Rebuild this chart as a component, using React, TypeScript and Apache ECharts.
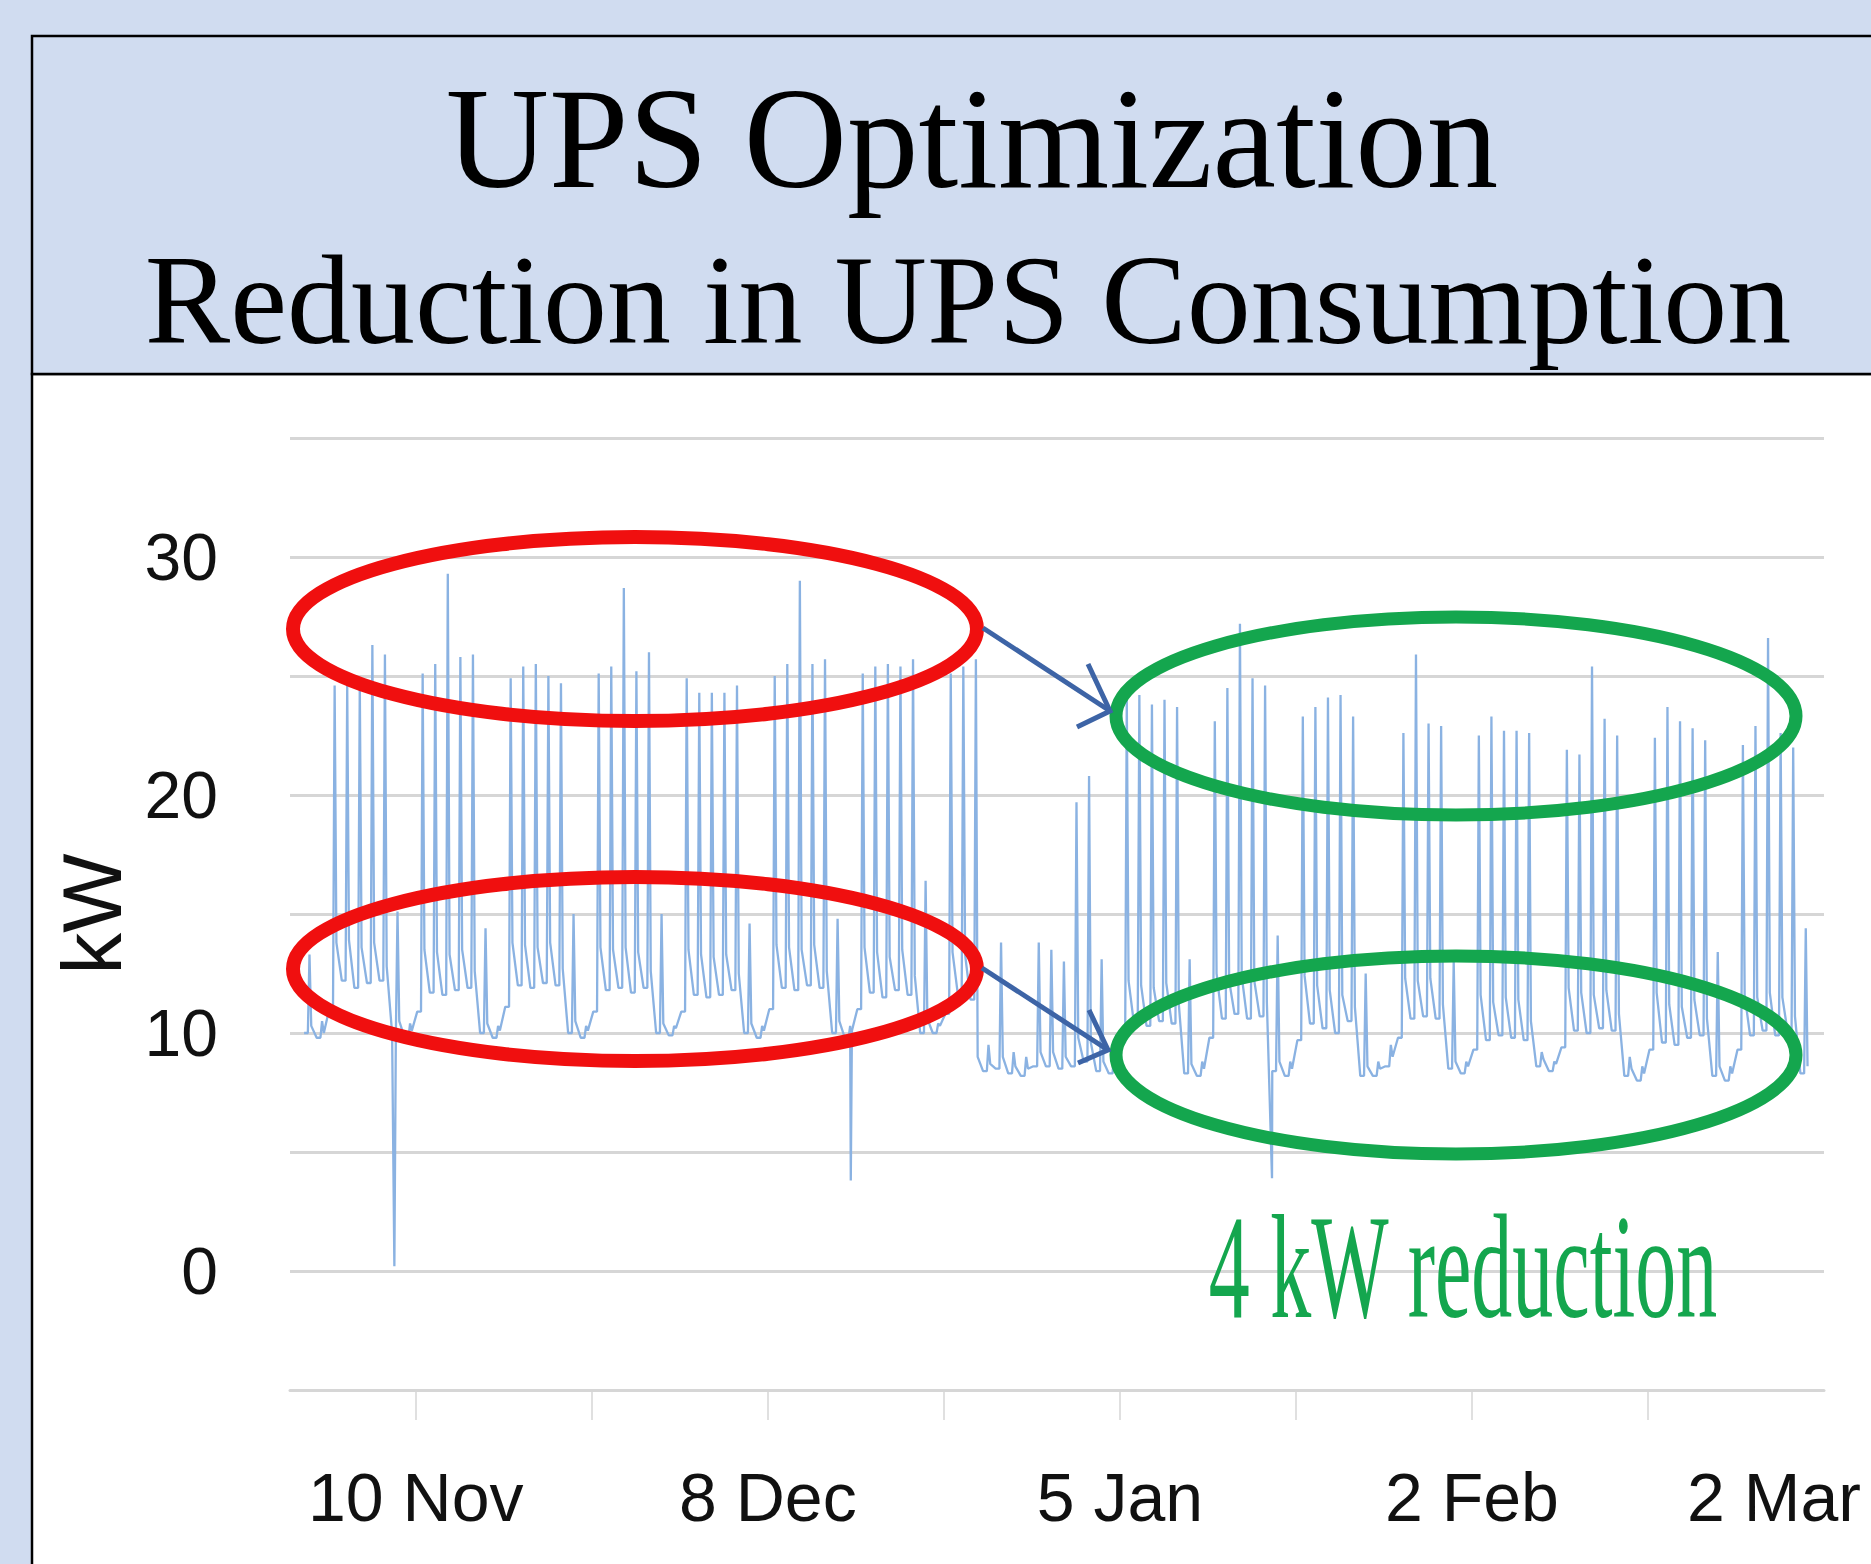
import React, { useEffect, useRef } from "react";
import * as echarts from "echarts";

const TITLE_LINE_1 = "UPS Optimization";
const TITLE_LINE_2 = "Reduction in UPS Consumption";
const Y_NAME = "kW";
const NOTE = "4 kW reduction";

// x values are days counted from Monday 27 Oct 2014 (day 0)
const FIRST_DAY = 5; // Saturday 1 Nov 2014
const X_MIN = 4;
const X_MAX = 126;
const X_TICK_DAYS = [14, 28, 42, 56, 70, 84, 98, 112];
const X_LABEL_DAYS = [14, 42, 70, 98, 126];
const X_LABELS = ["10 Nov", "8 Dec", "5 Jan", "2 Feb", "2 Mar"];
const Y_LABEL_VALUES = [0, 10, 20, 30];

// daily peak (kW), one value per day from Sat 1 Nov 2014 to Sat 28 Feb 2015
const dailyPeak = [
  13.3, 10.5, 24.6, 24.6, 24.7, 26.3, 25.9,
  15.1, 10.4, 25.1, 25.5, 29.3, 25.8, 25.9,
  14.4, 10.3, 24.9, 25.4, 25.5, 25.0, 24.7,
  15.0, 10.3, 25.1, 25.4, 28.7, 25.2, 26.0,
  15.0, 10.3, 24.9, 24.3, 24.3, 24.3, 24.6,
  14.6, 10.3, 25.0, 25.5, 29.0, 25.5, 25.7,
  14.8, 10.3, 25.1, 25.4, 25.5, 25.4, 25.7,
  16.4, 10.4, 25.1, 25.4, 25.7, 9.5, 13.8,
  9.2, 9.0, 13.8, 13.5, 13.0, 19.7, 20.8,
  13.1, 9.3, 24.0, 24.2, 23.8, 24.0, 23.7,
  13.1, 8.8, 23.1, 24.5, 27.2, 24.9, 24.6,
  14.1, 8.8, 23.3, 23.7, 24.1, 24.2, 23.3,
  12.5, 8.8, 9.5, 22.6, 25.9, 23.0, 22.9,
  13.0, 8.8, 22.5, 23.3, 22.7, 22.7, 22.6,
  9.2, 8.8, 21.9, 21.7, 25.4, 23.2, 22.5,
  9.0, 8.6, 22.4, 23.7, 23.1, 22.8, 22.3,
  13.4, 8.6, 22.1, 22.9, 26.6, 22.6, 22.0,
  14.4,
];

// early-morning base load (kW), same days
const dailyLow = [
  10.0, 9.8, 11.0, 12.2, 11.9, 12.1, 12.2,
  10.0, 9.8, 10.9, 11.7, 11.6, 11.8, 11.9,
  10.0, 9.8, 11.1, 12.0, 11.9, 12.1, 12.0,
  10.0, 9.8, 10.9, 11.8, 11.9, 11.7, 11.9,
  10.0, 9.9, 10.9, 11.6, 11.5, 11.6, 11.8,
  10.0, 9.8, 11.0, 11.9, 11.8, 12.0, 11.9,
  10.0, 9.8, 11.0, 11.7, 11.5, 11.8, 11.6,
  10.0, 10.0, 10.8, 11.6, 11.4, 8.4, 8.5,
  8.3, 8.2, 8.6, 8.6, 8.5, 8.6, 8.8,
  8.4, 8.3, 9.6, 10.4, 10.3, 10.5, 10.4,
  8.3, 8.2, 9.8, 10.6, 10.8, 10.6, 10.7,
  8.4, 8.2, 9.7, 10.4, 10.2, 10.0, 10.5,
  8.2, 8.2, 8.6, 9.8, 10.6, 10.7, 10.6,
  8.5, 8.3, 9.3, 9.7, 9.9, 9.8, 9.7,
  8.6, 8.4, 9.4, 10.1, 10.0, 10.2, 10.1,
  8.2, 8.0, 9.3, 9.6, 9.5, 9.8, 9.9,
  8.2, 8.0, 9.3, 9.9, 10.1, 9.9, 10.0,
  8.3,
];

// load just after the daily peak (kW), same days
const dailyEvening = [
  10.3, 10.0, 13.8, 13.9, 13.6, 13.8, 12.8,
  10.5, 10.1, 13.5, 13.4, 13.3, 13.5, 12.6,
  10.4, 10.1, 13.8, 13.7, 13.6, 13.8, 12.7,
  10.5, 10.1, 13.6, 13.5, 13.6, 13.4, 12.6,
  10.4, 10.2, 13.5, 13.3, 13.2, 13.3, 12.5,
  10.4, 10.1, 13.7, 13.6, 13.5, 13.7, 12.6,
  10.5, 10.1, 13.6, 13.4, 13.2, 13.5, 12.4,
  10.6, 10.3, 13.4, 13.3, 9.0, 8.7, 9.0,
  8.6, 8.5, 9.2, 9.2, 9.0, 9.8, 9.6,
  8.8, 8.6, 12.2, 12.0, 11.9, 12.1, 11.2,
  8.7, 8.5, 12.5, 12.2, 12.4, 12.2, 11.3,
  8.8, 8.5, 12.4, 12.0, 11.8, 11.6, 11.1,
  8.6, 8.5, 9.0, 12.3, 12.2, 12.3, 11.2,
  8.8, 8.6, 11.6, 11.3, 11.5, 11.4, 10.5,
  8.9, 8.7, 11.9, 11.7, 11.6, 11.8, 10.8,
  8.5, 8.3, 11.7, 11.2, 11.1, 11.4, 10.6,
  8.6, 8.3, 11.6, 11.5, 11.7, 11.5, 10.7,
  8.6,
];

// short drop-outs: [day, kW]
const dips = [
  [12.3, 0.2],
  [48.6, 3.8],
  [82.1, 3.9],
];

function buildSeries(): number[][] {
  const pts: number[][] = [];
  for (let i = 0; i < dailyPeak.length; i++) {
    const d = FIRST_DAY + i;
    pts.push([d + 0.12, dailyLow[i]]);
    pts.push([d + 0.42, dailyLow[i]]);
    pts.push([d + 0.55, dailyPeak[i]]);
    pts.push([d + 0.69, dailyEvening[i]]);
  }
  dips.forEach((p) => pts.push([p[0], p[1]]));
  pts.sort((a, b) => a[0] - b[0]);
  return pts;
}

const BG = "#D0DCF0";
const LABEL_FONT = "'Liberation Sans', Arial, sans-serif";
const SERIF = "'Liberation Serif', 'Times New Roman', serif";

export default function App() {
  const ref = useRef<HTMLDivElement>(null);
  useEffect(() => {
    if (!ref.current) return;
    const chart = echarts.init(ref.current, undefined, { renderer: "svg" });
    const red = "#F00F0F";
    const green = "#14A64E";
    const arrow = "#3D64A6";
    const option: any = {
      animation: false,
      backgroundColor: BG,
      grid: { left: 290, right: 47, top: 438, bottom: 174, containLabel: false },
      xAxis: {
        type: "value",
        min: X_MIN,
        max: X_MAX,
        splitLine: { show: false },
        axisLine: { show: true, onZero: false, lineStyle: { color: "#D6D6D6", width: 3 } },
        axisTick: {
          show: true,
          customValues: X_TICK_DAYS,
          length: 30,
          lineStyle: { color: "#D6D6D6", width: 1.5 },
        },
        axisLabel: {
          customValues: X_LABEL_DAYS,
          showMaxLabel: true,
          showMinLabel: true,
          margin: 73,
          fontSize: 68,
          fontFamily: LABEL_FONT,
          color: "#111",
          formatter: (v: number) => {
            const i = X_LABEL_DAYS.indexOf(v);
            if (i < 0) return "";
            if (i === X_LABEL_DAYS.length - 1) return "{last|" + X_LABELS[i] + "}";
            return X_LABELS[i];
          },
          rich: {
            last: {
              fontSize: 68,
              fontFamily: LABEL_FONT,
              color: "#111",
              padding: [0, 100, 0, 0],
            },
          },
        },
      },
      yAxis: {
        type: "value",
        min: -5,
        max: 35,
        interval: 5,
        name: Y_NAME,
        nameLocation: "middle",
        nameGap: 150,
        nameTextStyle: { fontSize: 84, fontFamily: LABEL_FONT, color: "#111" },
        axisLine: { show: false },
        axisTick: { show: false },
        splitLine: { show: true, lineStyle: { color: "#D6D6D6", width: 3 } },
        axisLabel: {
          margin: 72,
          fontSize: 66,
          fontFamily: LABEL_FONT,
          color: "#111",
          formatter: (v: number) => (Y_LABEL_VALUES.indexOf(v) >= 0 ? String(v) : ""),
        },
      },
      series: [
        {
          type: "line",
          data: buildSeries(),
          showSymbol: false,
          symbol: "none",
          lineStyle: { color: "#8AB2E2", width: 2.3 },
          z: 3,
        },
      ],
      graphic: [
        {
          type: "rect",
          z: -20,
          shape: { x: 32, y: 374, width: 1900, height: 1300 },
          style: { fill: "#FFFFFF", stroke: "#000", lineWidth: 2.5 },
        },
        {
          type: "rect",
          z: -20,
          shape: { x: 32, y: 36, width: 1900, height: 338 },
          style: { fill: BG, stroke: "#000", lineWidth: 2.5 },
        },
        {
          type: "text",
          z: 20,
          x: 972,
          y: 139,
          style: {
            text: TITLE_LINE_1,
            fontSize: 143,
            fontFamily: SERIF,
            fill: "#000",
            align: "center",
            verticalAlign: "middle",
          },
        },
        {
          type: "text",
          z: 20,
          x: 968,
          y: 300,
          style: {
            text: TITLE_LINE_2,
            fontSize: 128,
            fontFamily: SERIF,
            fill: "#000",
            align: "center",
            verticalAlign: "middle",
          },
        },
        {
          type: "ellipse",
          z: 20,
          shape: { cx: 635, cy: 629, rx: 342, ry: 92 },
          style: { fill: "none", stroke: red, lineWidth: 14 },
        },
        {
          type: "ellipse",
          z: 20,
          shape: { cx: 635, cy: 969, rx: 342, ry: 92 },
          style: { fill: "none", stroke: red, lineWidth: 14 },
        },
        {
          type: "ellipse",
          z: 20,
          shape: { cx: 1456, cy: 716, rx: 340, ry: 99 },
          style: { fill: "none", stroke: green, lineWidth: 13 },
        },
        {
          type: "ellipse",
          z: 20,
          shape: { cx: 1456, cy: 1055, rx: 340, ry: 99 },
          style: { fill: "none", stroke: green, lineWidth: 13 },
        },
        {
          type: "line",
          z: 20,
          shape: { x1: 983, y1: 628, x2: 1110, y2: 711 },
          style: { stroke: arrow, lineWidth: 5 },
        },
        {
          type: "polyline",
          z: 20,
          shape: { points: [[1088, 664], [1110, 711], [1077, 727]] },
          style: { stroke: arrow, lineWidth: 5, fill: "none" },
        },
        {
          type: "line",
          z: 20,
          shape: { x1: 982, y1: 968, x2: 1108, y2: 1050 },
          style: { stroke: arrow, lineWidth: 5 },
        },
        {
          type: "polyline",
          z: 20,
          shape: { points: [[1089, 1010], [1108, 1050], [1078, 1063]] },
          style: { stroke: arrow, lineWidth: 5, fill: "none" },
        },
        {
          type: "text",
          z: 20,
          x: 1463,
          y: 1268,
          scaleY: 1.8,
          style: {
            text: NOTE,
            fontSize: 82,
            fontFamily: SERIF,
            fill: green,
            align: "center",
            verticalAlign: "middle",
          },
        },
      ],
    };
    chart.setOption(option);
    return () => chart.dispose();
  }, []);
  return (
    <div
      ref={ref}
      style={{ position: "absolute", left: 0, top: 0, width: 1871, height: 1564 }}
    />
  );
}
